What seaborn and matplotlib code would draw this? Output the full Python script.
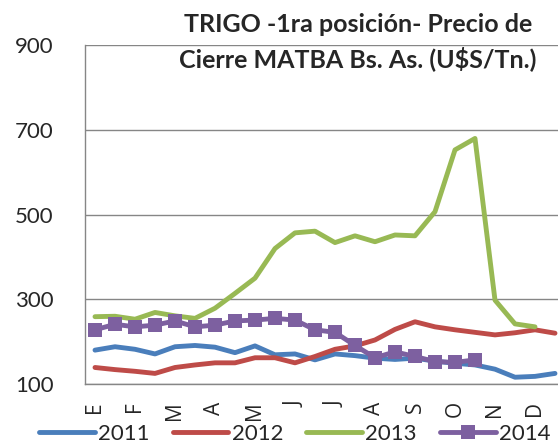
import numpy as np
import pandas as pd
import matplotlib
matplotlib.use('Agg')
import matplotlib.pyplot as plt
import seaborn as sns

# data (biweekly, 24 points per year)
months = ['E', 'F', 'M', 'A', 'M', 'J', 'J', 'A', 'S', 'O', 'N', 'D']
y2011 = [180, 188, 182, 171, 188, 191, 187, 174, 190, 169, 171, 157,
         171, 167, 161, 158, 161, 154, 149, 145, 135, 116, 118, 125]
y2012 = [139, 134, 130, 125, 139, 145, 150, 150, 162, 162, 150, 165,
         182, 190, 204, 229, 247, 235, 228, 222, 216, 221, 228, 220]
y2013 = [259, 260, 253, 269, 261, 255, 279, 314, 350, 420, 457, 461,
         434, 450, 436, 452, 450, 507, 653, 680, 298, 242, 235]
y2014 = [228, 241, 235, 239, 249, 235, 239, 249, 251, 255, 251, 228,
         222, 191, 162, 176, 165, 153, 151, 157]

series = {'2011': y2011, '2012': y2012, '2013': y2013, '2014': y2014}
colors = {'2011': '#4A7EBB', '2012': '#BE4B48', '2013': '#98B954', '2014': '#7D60A0'}

sns.set_style('white')
plt.rcParams['font.family'] = ['Lato', 'DejaVu Sans']

fig = plt.figure(figsize=(5.58, 4.43), dpi=100)
ax = fig.add_axes([85/558, 1-384/443, 480/558, (384-45.3)/443])

for name, vals in series.items():
    x = np.arange(len(vals))
    if name == '2014':
        sns.lineplot(x=x, y=vals, ax=ax, color=colors[name], lw=3.5, label=name,
                     marker='s', markersize=10, markeredgewidth=0)
    else:
        sns.lineplot(x=x, y=vals, ax=ax, color=colors[name], lw=3.5, label=name)

ax.set_xlim(-0.5, 23.5)
ax.set_ylim(100, 900)
ax.set_yticks([100, 300, 500, 700, 900])
ax.set_xticks(np.arange(0, 24, 2))
ax.set_xticklabels(months, rotation=90, fontsize=15, family='Open Sans')
ax.set_xticks(np.arange(-0.5, 24, 1), minor=True)
ax.tick_params(axis='x', which='major', length=0, pad=12.5)
ax.tick_params(axis='x', which='minor', length=6, width=1, color='#868686', direction='out')
ax.tick_params(axis='y', length=6, width=1, color='#868686', direction='out', pad=16.5, labelsize=16)
ax.grid(axis='y', color='#868686', lw=1)
ax.grid(axis='x', visible=False)
for s in ['top', 'right']:
    ax.spines[s].set_visible(False)
for s in ['left', 'bottom']:
    ax.spines[s].set_color('#868686')
    ax.spines[s].set_linewidth(1)
ax.set_xlabel('')
ax.set_ylabel('')

ax.get_legend().remove()
handles, labels = ax.get_legend_handles_labels()
fig.legend(handles, labels, loc='center left', bbox_to_anchor=(39/558, 1-434/443),
           ncol=4, frameon=False, fontsize=16, handlelength=2.5, handletextpad=0.15,
           columnspacing=1.05, borderpad=0, borderaxespad=0)

fig.text(358/558, 1-24/443, 'TRIGO -1ra posición- Precio de', ha='center', va='center',
         fontsize=18, fontweight='bold')
fig.text(358/558, 1-59/443, 'Cierre MATBA Bs. As. (U$S/Tn.)', ha='center', va='center',
         fontsize=18, fontweight='bold')

fig.savefig('out.png', dpi=100)
